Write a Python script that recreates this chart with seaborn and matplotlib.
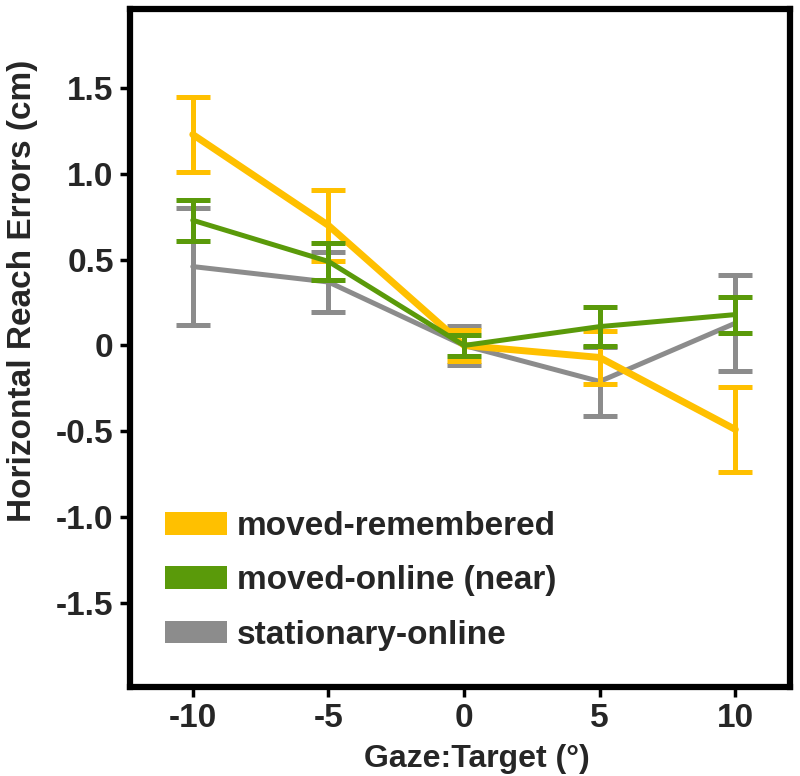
import numpy as np
import pandas as pd
import matplotlib
matplotlib.use("Agg")
import matplotlib.pyplot as plt
import matplotlib.patches as mpatches
import seaborn as sns

# data
gaze = [-10, -5, 0, 5, 10]
conditions = ["moved-remembered", "moved-online (near)", "stationary-online"]
remembered_mean = [1.23, 0.70, 0.00, -0.07, -0.49]
remembered_err = [0.22, 0.205, 0.09, 0.153, 0.25]
online_mean = [0.73, 0.49, 0.00, 0.11, 0.18]
online_err = [0.12, 0.11, 0.06, 0.116, 0.105]
stationary_mean = [0.46, 0.37, 0.00, -0.21, 0.13]
stationary_err = [0.34, 0.175, 0.115, 0.20, 0.28]
yticks = [-1.5, -1.0, -0.5, 0, 0.5, 1.0, 1.5]
ytick_labels = ["-1.5", "-1.0", "-0.5", "0", "0.5", "1.0", "1.5"]

colors = {"moved-remembered": "#FFC000",
          "moved-online (near)": "#5A9A0A",
          "stationary-online": "#8C8C8C"}
widths = {"moved-remembered": 5.0,
          "moved-online (near)": 3.6,
          "stationary-online": 3.6}
zorders = {"moved-remembered": 3, "moved-online (near)": 4, "stationary-online": 2}

means = dict(zip(conditions, [remembered_mean, online_mean, stationary_mean]))
errs = dict(zip(conditions, [remembered_err, online_err, stationary_err]))

df = pd.concat([pd.DataFrame({"gaze": gaze, "error": means[c], "sem": errs[c], "condition": c})
                for c in conditions], ignore_index=True)

sns.set_style("white")
plt.rcParams['font.family'] = ['Liberation Sans', 'DejaVu Sans']

fig = plt.figure(figsize=(8, 7.76), dpi=100)
ax = fig.add_axes([0.163, 0.115, 0.824, 0.873])

for c in conditions:
    sub = df[df.condition == c]
    sns.lineplot(data=sub, x="gaze", y="error", color=colors[c], lw=widths[c],
                 ax=ax, zorder=zorders[c], legend=False)
    ax.errorbar(sub.gaze, sub.error, yerr=sub["sem"], fmt="none", ecolor=colors[c],
                elinewidth=3.6, capsize=12, capthick=3.6, zorder=zorders[c])

ax.set_xlim(-12.3, 12.0)
ax.set_ylim(-1.99, 1.96)
ax.set_xticks(gaze)
ax.set_xticklabels([str(g) for g in gaze], fontsize=24, fontweight="bold", color="#262626")
ax.set_yticks(yticks)
ax.set_yticklabels(ytick_labels, fontsize=24, fontweight="bold", color="#262626")
ax.tick_params(direction="out", length=7, width=2.5, color="black", pad=5, left=True, bottom=True)
for s in ax.spines.values():
    s.set_linewidth(4.5)
    s.set_color("black")

ax.set_xlabel("Gaze:Target (°)", fontsize=23, fontweight="bold", color="#262626")
ax.set_ylabel("Horizontal Reach Errors (cm)", fontsize=24, fontweight="bold", color="#262626")
ax.xaxis.set_label_coords(0.526, -0.085)
ax.yaxis.set_label_coords(-0.14, 0.585)

handles = [mpatches.Patch(facecolor=colors[c], edgecolor="none", label=c) for c in conditions]
leg = ax.legend(handles=handles, loc="lower left", bbox_to_anchor=(0.007, 0.009), frameon=False,
                prop={"size": 24, "weight": "bold"}, handlelength=1.86, handleheight=0.66,
                labelspacing=0.7, handletextpad=0.3)
for t in leg.get_texts():
    t.set_color("#262626")

fig.savefig("out.png", dpi=100)
